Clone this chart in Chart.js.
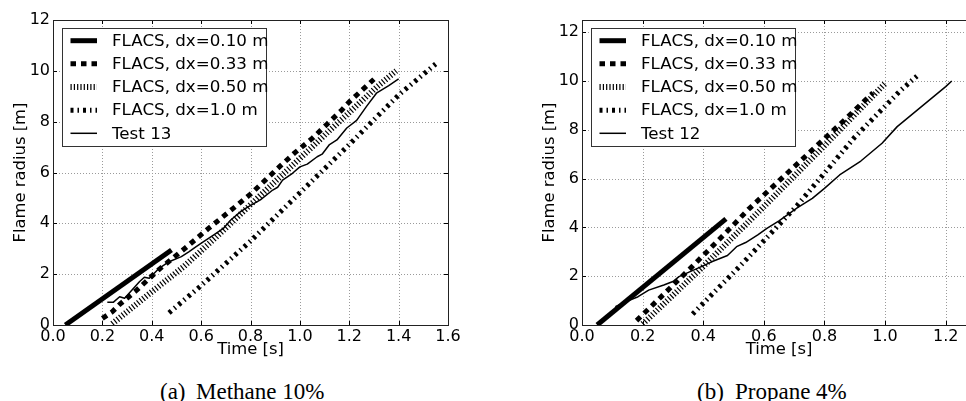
<!DOCTYPE html>
<html>
<head>
<meta charset="utf-8">
<script src="https://cdn.jsdelivr.net/npm/chart.js@4.4.1/dist/chart.umd.min.js"></script>
<style>
  html, body { margin: 0; padding: 0; background: #fff; overflow: hidden; }
  #wrap { position: relative; width: 966px; height: 401px; overflow: hidden; background: #fff; }
  canvas { position: absolute; top: 0; }
  .cap { position: absolute; top: 380px; font-family: "Liberation Serif", "Times New Roman", serif;
         font-size: 23px; line-height: 23px; color: #000; white-space: nowrap; }
</style>
</head>
<body>
<div id="wrap">
  <canvas id="methane" width="470" height="365" style="left:0"></canvas>
  <canvas id="propane" width="510" height="365" style="left:490px"></canvas>
  <span class="cap" style="left:160px">(a)</span>
  <span class="cap" style="left:196px">Methane 10%</span>
  <span class="cap" style="left:697px">(b)</span>
  <span class="cap" style="left:735px">Propane 4%</span>
</div>
<script>
// ---- Methane 10 % (test 13): time [s] / flame radius [m]
const methDx010T = [0.05, 0.48];
const methDx010R = [0.00, 2.95];
const methDx033T = [0.20, 0.24, 0.27, 0.34, 0.43, 0.53, 0.63, 0.73, 0.80, 0.86, 0.92, 0.98, 1.05, 1.11, 1.17, 1.20, 1.30];
const methDx033R = [0.26, 0.52, 0.81, 1.38, 2.19, 2.98, 3.80, 4.59, 5.15, 5.70, 6.25, 6.78, 7.34, 7.90, 8.46, 8.78, 9.67];
const methDx050T = [0.24, 0.38, 0.53, 0.66, 0.78, 0.90, 1.00, 1.12, 1.21, 1.31, 1.39];
const methDx050R = [0.05, 1.15, 2.30, 3.45, 4.55, 5.65, 6.55, 7.65, 8.45, 9.35, 10.00];
const methDx100T = [0.47, 0.60, 0.80, 1.00, 1.20, 1.40, 1.55];
const methDx100R = [0.48, 1.55, 3.30, 5.20, 7.10, 9.05, 10.27];
const methTestT = [0.22, 0.245, 0.27, 0.29, 0.32, 0.35, 0.37, 0.39, 0.43, 0.47, 0.52, 0.55, 0.58, 0.61, 0.65, 0.69, 0.72, 0.76,
                   0.79, 0.84, 0.89, 0.91, 0.93, 0.97, 1.00, 1.03, 1.07, 1.09, 1.12, 1.15, 1.19, 1.23, 1.27, 1.31, 1.36, 1.40];
const methTestR = [0.90, 0.90, 1.11, 1.05, 1.38, 1.70, 1.88, 1.84, 2.23, 2.49, 2.69, 2.88, 3.08, 3.28, 3.54, 3.80, 4.13, 4.46,
                   4.65, 4.92, 5.31, 5.42, 5.70, 5.97, 6.22, 6.33, 6.62, 6.72, 7.10, 7.28, 7.75, 8.05, 8.60, 9.12, 9.42, 9.68];

// ---- Propane 4 % (test 12)
const propDx010T = [0.05, 0.475];
const propDx010R = [0.00, 4.35];
const propDx033T = [0.18, 0.36, 0.48, 0.55, 0.73, 0.86, 0.96];
const propDx033R = [0.18, 2.35, 3.85, 4.75, 6.83, 8.33, 9.52];
const propDx050T = [0.20, 0.40, 0.60, 0.80, 1.00];
const propDx050R = [0.04, 2.40, 4.85, 7.35, 9.90];
const propDx100T = [0.365, 0.52, 0.71, 0.90, 1.05, 1.105];
const propDx100R = [0.45, 2.40, 4.90, 7.70, 9.60, 10.20];
const propTestT = [0.11, 0.15, 0.185, 0.22, 0.27, 0.30, 0.32, 0.355, 0.39, 0.43, 0.48, 0.51, 0.54, 0.58, 0.61, 0.65,
                   0.71, 0.76, 0.80, 0.85, 0.92, 0.99, 1.04, 1.08, 1.12, 1.16, 1.20, 1.22];
const propTestR = [0.75, 0.98, 1.16, 1.43, 1.64, 1.78, 1.98, 2.18, 2.37, 2.60, 2.85, 3.21, 3.38, 3.69, 3.96, 4.27,
                   4.80, 5.19, 5.60, 6.15, 6.72, 7.45, 8.13, 8.54, 8.95, 9.36, 9.77, 10.00];

// ---- tick values and labels
const methXTicks = [0.0, 0.2, 0.4, 0.6, 0.8, 1.0, 1.2, 1.4, 1.6];
const propXTicks = [0.0, 0.2, 0.4, 0.6, 0.8, 1.0, 1.2];
const radiusTicks = [0, 2, 4, 6, 8, 10, 12];
const seriesLabels = ['FLACS, dx=0.10 m', 'FLACS, dx=0.33 m', 'FLACS, dx=0.50 m', 'FLACS, dx=1.0 m'];
const xTitle = 'Time [s]';
const yTitle = 'Flame radius [m]';

// line looks per series: thick solid, square dots, fine hatch, dash-dot ticks, thin solid
const lineLooks = [
  { width: 5,   dash: [] },
  { width: 5,   dash: [5.5, 5] },
  { width: 6,   dash: [1.2, 2.1] },
  { width: 5,   dash: [3, 4, 1.5, 4] },
  { width: 1.5, dash: [] }
];

Chart.defaults.font.family = '"DejaVu Sans", sans-serif';
Chart.defaults.color = '#000';

const pts = (t, r) => t.map((v, i) => ({ x: v, y: r[i] }));

// grid, inward ticks, frame and boxed legend, in the classic matplotlib manner
const framePlugin = {
  id: 'frame',
  beforeDatasetsDraw(chart) {
    const { ctx, chartArea: a, scales: { x, y } } = chart;
    ctx.save();
    ctx.strokeStyle = '#9a9a9a';
    ctx.lineWidth = 1;
    ctx.setLineDash([1, 2]);
    x.ticks.forEach(t => {
      const px = Math.round(x.getPixelForValue(t.value)) + 0.5;
      ctx.beginPath(); ctx.moveTo(px, a.top); ctx.lineTo(px, a.bottom); ctx.stroke();
    });
    y.ticks.forEach(t => {
      const py = Math.round(y.getPixelForValue(t.value)) + 0.5;
      ctx.beginPath(); ctx.moveTo(a.left, py); ctx.lineTo(a.right, py); ctx.stroke();
    });
    ctx.restore();
  },
  afterDatasetsDraw(chart, args, opts) {
    const { ctx, chartArea: a, scales: { x, y } } = chart;
    ctx.save();
    ctx.strokeStyle = '#000';
    ctx.lineWidth = 1;
    ctx.setLineDash([]);
    const seg = (x1, y1, x2, y2) => { ctx.beginPath(); ctx.moveTo(x1, y1); ctx.lineTo(x2, y2); ctx.stroke(); };
    x.ticks.forEach(t => {
      const px = Math.round(x.getPixelForValue(t.value)) + 0.5;
      seg(px, a.bottom, px, a.bottom - 4);
      seg(px, a.top, px, a.top + 4);
    });
    y.ticks.forEach(t => {
      const py = Math.round(y.getPixelForValue(t.value)) + 0.5;
      seg(a.left, py, a.left + 4, py);
      seg(a.right, py, a.right - 4, py);
    });
    ctx.strokeStyle = '#222';
    ctx.strokeRect(Math.round(a.left) + 0.5, Math.round(a.top) + 0.5,
                   Math.round(a.right - a.left), Math.round(a.bottom - a.top));

    // legend box
    const b = opts.box;
    ctx.fillStyle = '#fff';
    ctx.fillRect(b.x, b.y, b.w, b.h);
    ctx.strokeStyle = '#333';
    ctx.strokeRect(b.x + 0.5, b.y + 0.5, b.w, b.h);
    ctx.font = '16.7px "DejaVu Sans"';
    ctx.textBaseline = 'middle';
    ctx.textAlign = 'left';
    ctx.fillStyle = '#000';
    chart.data.datasets.forEach((ds, i) => {
      const ry = b.y + 12.7 + i * 23.15;
      ctx.strokeStyle = '#000';
      ctx.lineWidth = ds.borderWidth;
      ctx.lineCap = 'butt';
      ctx.setLineDash(ds.borderDash);
      seg(b.x + 8.5, ry, b.x + 35, ry);
      ctx.setLineDash([]);
      ctx.fillText(ds.label, b.x + 50, ry + 1);
    });
    ctx.restore();
  }
};

// place ticks exactly at the listed values
const useTicks = values => scale => { scale.ticks = values.map(v => ({ value: v })); };

function makeChart(id, series, testLabel, cfg) {
  const labels = seriesLabels.concat([testLabel]);
  const datasets = series.map((s, i) => ({
    label: labels[i],
    data: pts(s[0], s[1]),
    borderColor: '#000',
    borderWidth: lineLooks[i].width,
    borderDash: lineLooks[i].dash,
    borderCapStyle: 'butt',
    borderJoinStyle: 'round',
    pointRadius: 0,
    fill: false,
    tension: 0,
    clip: 0,
    order: series.length - 1 - i
  }));
  return new Chart(document.getElementById(id), {
    type: 'line',
    data: { datasets },
    options: {
      responsive: false,
      animation: false,
      events: [],
      layout: { padding: cfg.padding },
      plugins: { legend: { display: false }, tooltip: { enabled: false }, frame: { box: cfg.box } },
      scales: {
        x: {
          type: 'linear', min: 0, max: cfg.xMax,
          grid: { display: false, drawTicks: false },
          border: { display: false },
          afterBuildTicks: useTicks(cfg.xTicks),
          afterFit: s => { s.height = 39; },
          ticks: { autoSkip: false, maxRotation: 0, padding: 2,
                   font: { size: 16 }, color: '#000', callback: v => Number(v).toFixed(1) },
          title: { display: true, text: xTitle, font: { size: 16.4 }, color: '#000', padding: { top: 4, bottom: 4 } }
        },
        y: {
          type: 'linear', min: 0, max: cfg.yMax,
          grid: { display: false, drawTicks: false },
          border: { display: false },
          afterBuildTicks: useTicks(radiusTicks),
          afterFit: s => { s.width = 46; },
          ticks: { autoSkip: false, padding: 3,
                   font: { size: 16 }, color: '#000', callback: v => String(Math.round(v)) },
          title: { display: true, text: yTitle, font: { size: 16.4 }, color: '#000', padding: { top: 4, bottom: 4 } }
        }
      }
    },
    plugins: [framePlugin]
  });
}

makeChart('methane', [
  [methDx010T, methDx010R], [methDx033T, methDx033R], [methDx050T, methDx050R],
  [methDx100T, methDx100R], [methTestT, methTestR]
], 'Test 13', {
  xMax: 1.6, yMax: 12, xTicks: methXTicks,
  padding: { left: 7, top: 20, right: 22, bottom: 1 },
  box: { x: 62, y: 28, w: 204, h: 118 }
});

makeChart('propane', [
  [propDx010T, propDx010R], [propDx033T, propDx033R], [propDx050T, propDx050R],
  [propDx100T, propDx100R], [propTestT, propTestR]
], 'Test 12', {
  xMax: 1.3, yMax: 12.5, xTicks: propXTicks,
  padding: { left: 46, top: 20, right: 24, bottom: 1 },
  box: { x: 101, y: 28, w: 204, h: 118 }
});
</script>
</body>
</html>
